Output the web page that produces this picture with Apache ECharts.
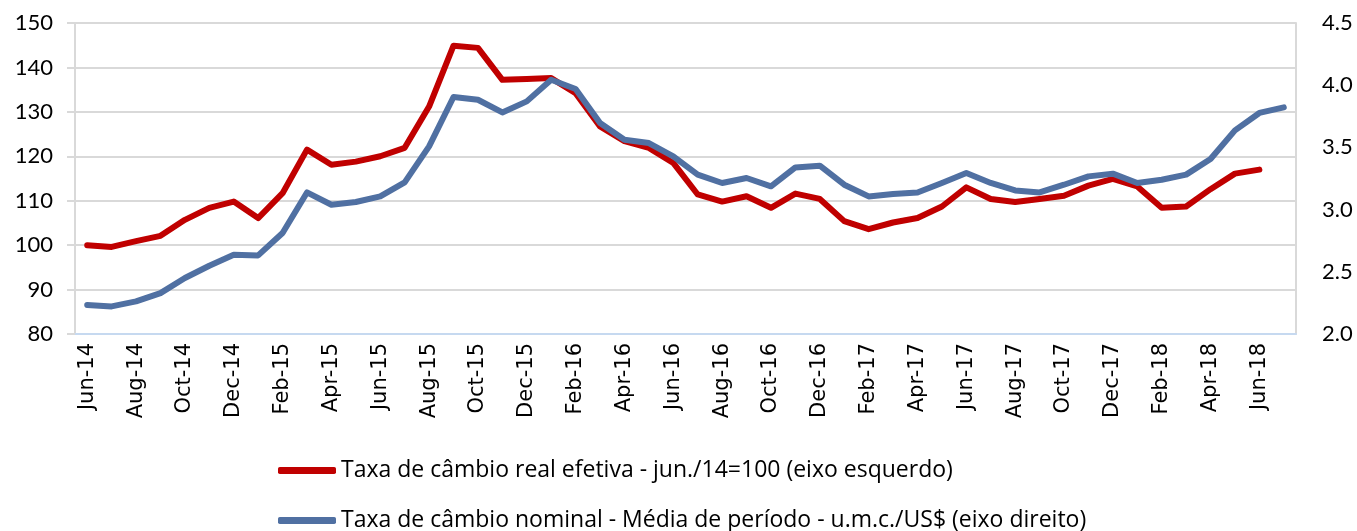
<!DOCTYPE html>
<html><head><meta charset="utf-8">
<script src="https://cdn.jsdelivr.net/npm/echarts@6/dist/echarts.min.js"></script>
<style>html,body{margin:0;padding:0;background:#fff}#c{width:1357px;height:531px}</style>
</head><body><div id="c"></div>
<script>
const categories = ["Jun-14","Jul-14","Aug-14","Sep-14","Oct-14","Nov-14","Dec-14","Jan-15","Feb-15","Mar-15","Apr-15","May-15","Jun-15","Jul-15","Aug-15","Sep-15","Oct-15","Nov-15","Dec-15","Jan-16","Feb-16","Mar-16","Apr-16","May-16","Jun-16","Jul-16","Aug-16","Sep-16","Oct-16","Nov-16","Dec-16","Jan-17","Feb-17","Mar-17","Apr-17","May-17","Jun-17","Jul-17","Aug-17","Sep-17","Oct-17","Nov-17","Dec-17","Jan-18","Feb-18","Mar-18","Apr-18","May-18","Jun-18","Jul-18"];
const realRate = [100.0,99.6,100.9,102.1,105.7,108.4,109.8,106.1,111.7,121.5,118.1,118.8,120.0,121.9,131.2,144.9,144.4,137.2,137.4,137.6,134.2,126.7,123.4,121.9,118.5,111.4,109.8,111.0,108.4,111.6,110.4,105.4,103.6,105.1,106.1,108.7,113.0,110.4,109.7,110.4,111.1,113.4,114.9,113.2,108.4,108.7,112.6,116.1,117.0];
const nominalRate = [2.233,2.222,2.262,2.329,2.450,2.549,2.637,2.632,2.812,3.138,3.039,3.061,3.106,3.219,3.508,3.905,3.883,3.781,3.870,4.044,3.969,3.696,3.562,3.535,3.428,3.281,3.214,3.254,3.187,3.339,3.353,3.200,3.106,3.125,3.138,3.214,3.294,3.214,3.154,3.138,3.200,3.267,3.289,3.214,3.240,3.281,3.407,3.637,3.777,3.822];
const seriesNames = ["Taxa de câmbio real efetiva - jun./14=100 (eixo esquerdo)","Taxa de câmbio nominal - Média de período - u.m.c./US$ (eixo direito)"];

const legendBase = {
  orient:'horizontal', left:273, icon:'roundRect', itemWidth:58, itemHeight:7, itemGap:0,
  textStyle:{fontFamily:'Open Sans', fontSize:23, color:'#000'}
};
const chart = echarts.init(document.getElementById('c'), null, {renderer:'canvas'});
chart.setOption({
  animation:false,
  backgroundColor:'#fff',
  grid:{left:75,right:61,top:23,bottom:197,containLabel:false},
  legend:[
    Object.assign({}, legendBase, {top:454, data:[seriesNames[0]]}),
    Object.assign({}, legendBase, {top:504, data:[seriesNames[1]]})
  ],
  xAxis:{
    type:'category', data:categories, boundaryGap:true,
    axisLine:{lineStyle:{color:'#c6d9f0', width:2}},
    axisTick:{interval:1, length:8, lineStyle:{color:'#c6d9f0', width:2}},
    axisLabel:{interval:1, rotate:90, margin:9, fontFamily:'DejaVu Sans', fontSize:21, color:'#000'},
    splitLine:{show:false}
  },
  yAxis:[
    {type:'value', min:80, max:150, interval:10, position:'left',
     axisLine:{show:true, lineStyle:{color:'#d9d9d9', width:2}},
     axisTick:{show:true, length:8, lineStyle:{color:'#d9d9d9', width:2}},
     axisLabel:{fontFamily:'Lato', fontSize:22, color:'#000', margin:22},
     splitLine:{show:true, lineStyle:{color:'#d9d9d9', width:2}}},
    {type:'value', min:2.0, max:4.5, interval:0.5, position:'right',
     axisLine:{show:true, lineStyle:{color:'#d9d9d9', width:2}},
     axisTick:{show:false},
     axisLabel:{fontFamily:'Lato', fontSize:22, color:'#000', margin:26, formatter:v=>v.toFixed(1)},
     splitLine:{show:false}}
  ],
  series:[
    {name:seriesNames[0], type:'line', yAxisIndex:0, data:realRate, symbol:'none',
     lineStyle:{color:'#c00000', width:6, join:'round', cap:'round'}, itemStyle:{color:'#c00000'}, z:2},
    {name:seriesNames[1], type:'line', yAxisIndex:1, data:nominalRate, symbol:'none',
     lineStyle:{color:'#5070a2', width:6, join:'round', cap:'round'}, itemStyle:{color:'#5070a2'}, z:3}
  ]
});
</script></body></html>
